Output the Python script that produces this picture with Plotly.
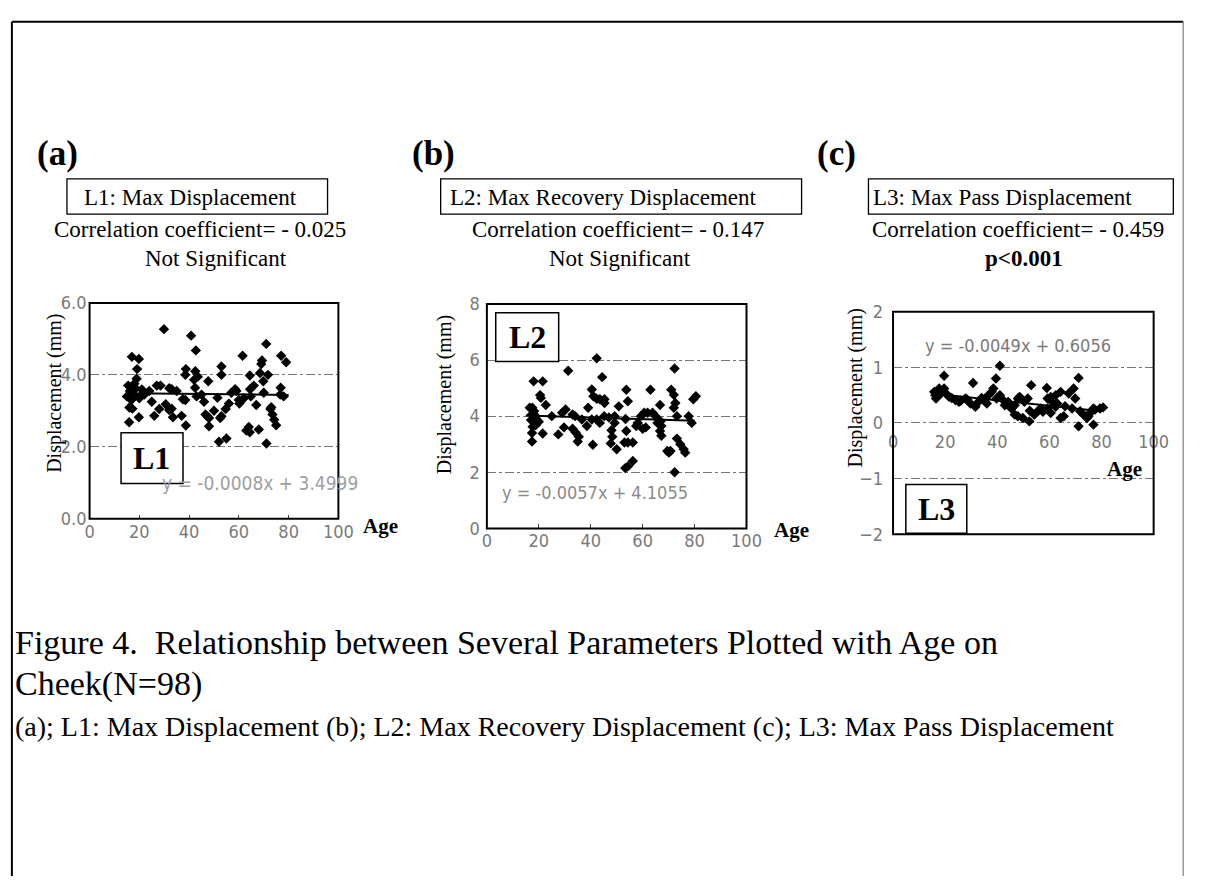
import plotly.graph_objects as go

W, H = 1207, 886

# ---------------- data ----------------
age_a = [29.9, 40.8, 42.7, 17.0, 19.8, 19.1, 18.9, 15.5, 16.2, 15.0, 17.5, 18.5, 20.0, 16.8,
         15.9, 19.8, 16.0, 17.2, 21.0, 24.0, 27.0, 28.5, 32.0, 33.0, 28.0, 26.0, 30.6, 32.0,
         33.0, 33.5, 37.0, 38.7, 38.5, 37.5, 38.5, 38.7, 42.0, 42.5, 43.5, 42.4, 43.0, 47.7,
         46.0, 46.6, 47.3, 48.0, 48.0, 53.0, 53.0, 51.4, 53.0, 52.5, 54.7, 52.0, 55.0, 57.0,
         58.5, 59.0, 60.0, 60.2, 61.5, 64.4, 64.5, 64.8, 63.0, 64.0, 64.4, 67.0, 68.0, 68.5,
         69.0, 69.3, 71.0, 69.8, 71.7, 71.1, 72.7, 73.5, 74.2, 75.0, 76.6, 76.8, 77.0, 79.0,
         16.5, 18.0, 20.5, 22.0, 25.0, 35.0, 45.0, 50.0, 56.0, 62.0, 66.0, 70.0, 73.0, 78.0]
disp_a = [5.27, 5.09, 4.68, 4.50, 4.44, 4.16, 3.89, 3.70, 3.55, 3.40, 3.45, 3.62, 3.35, 3.30,
          2.68, 2.82, 3.09, 3.06, 3.59, 3.55, 3.70, 3.70, 3.63, 3.60, 3.05, 2.86, 3.18, 3.02,
          3.06, 2.82, 2.86, 2.59, 3.30, 3.32, 4.00, 4.16, 3.86, 4.10, 3.95, 3.64, 3.40, 3.82,
          3.25, 2.90, 2.85, 2.80, 2.57, 4.23, 4.00, 3.36, 2.85, 2.80, 3.05, 2.14, 2.23, 3.50,
          3.60, 3.55, 3.30, 3.20, 4.53, 3.98, 3.60, 3.40, 2.45, 2.55, 2.40, 3.16, 2.48, 4.05,
          4.30, 4.40, 4.86, 3.82, 4.00, 2.09, 3.05, 2.90, 2.75, 2.60, 3.45, 3.64, 4.53, 4.35,
          3.50, 3.75, 3.40, 3.45, 3.25, 3.55, 3.45, 3.00, 3.20, 3.35, 3.70, 3.50, 3.10, 3.40]

age_b = [42.3, 31.3, 44.4, 72.3, 18.0, 21.5, 20.5, 20.8, 22.7, 17.5, 18.2, 17.3, 18.8, 17.0,
         20.0, 18.8, 17.6, 17.4, 17.4, 21.5, 25.0, 29.0, 30.3, 33.0, 34.0, 27.5, 29.7, 33.0,
         34.2, 35.4, 35.0, 36.6, 38.5, 40.8, 39.0, 40.4, 41.0, 42.3, 43.5, 45.3, 45.3, 40.4,
         42.3, 43.5, 45.2, 48.0, 48.3, 47.7, 49.2, 49.2, 50.0, 50.8, 53.7, 54.3, 53.4, 53.7,
         53.0, 54.3, 56.2, 53.3, 54.3, 56.2, 57.5, 58.1, 59.3, 60.6, 60.0, 61.2, 63.0, 61.9,
         63.8, 65.0, 65.7, 66.7, 66.9, 67.2, 66.7, 67.2, 69.5, 70.1, 70.7, 71.0, 72.0, 72.6,
         72.0, 73.2, 72.3, 73.2, 74.5, 75.8, 76.4, 77.7, 78.9, 79.5, 80.5, 19.0, 16.5, 47.0]
disp_b = [6.06, 5.62, 5.39, 5.70, 5.24, 5.24, 4.75, 4.65, 4.40, 4.30, 4.18, 4.06, 4.00, 3.86,
          3.80, 3.68, 3.62, 3.40, 3.10, 3.38, 4.00, 4.12, 4.24, 4.06, 4.00, 3.35, 3.60, 3.55,
          3.42, 3.27, 3.10, 3.88, 3.65, 2.98, 4.30, 4.95, 4.71, 4.62, 4.60, 4.60, 4.47, 3.88,
          3.88, 3.76, 4.00, 3.50, 3.27, 3.03, 4.00, 3.76, 2.82, 4.35, 4.94, 4.53, 3.90, 3.47,
          3.06, 3.06, 3.06, 2.15, 2.21, 2.40, 3.65, 3.76, 4.00, 4.12, 3.55, 3.60, 4.94, 4.12,
          4.12, 4.00, 3.76, 4.40, 3.82, 3.65, 3.47, 3.30, 2.76, 2.70, 2.76, 4.94, 4.76, 4.47,
          4.30, 4.00, 2.00, 3.20, 3.00, 2.82, 2.70, 4.00, 3.76, 4.60, 4.71, 3.90, 4.30, 3.95]

age_c = [41.0, 19.6, 71.2, 30.7, 39.5, 53.0, 59.0, 15.8, 17.7, 16.5, 17.1, 19.6, 18.4, 21.5,
         24.0, 25.3, 27.8, 29.7, 31.6, 32.8, 35.4, 36.6, 37.9, 38.5, 39.7, 41.0, 42.3, 42.9,
         44.2, 45.4, 46.7, 47.9, 48.6, 46.7, 47.9, 49.8, 52.3, 54.2, 55.5, 56.7, 50.4, 51.7,
         59.3, 60.5, 62.4, 64.3, 59.3, 60.5, 62.4, 63.0, 65.5, 64.3, 67.4, 69.3, 69.9, 68.7,
         71.2, 71.8, 73.1, 74.4, 75.6, 76.9, 77.5, 79.4, 76.9, 80.6, 16.2, 18.0, 22.5, 26.0,
         34.0, 44.0, 57.5, 66.0, 75.0, 20.5, 28.5, 36.0, 52.5, 61.0]
disp_c = [1.03, 0.85, 0.81, 0.72, 0.80, 0.68, 0.63, 0.56, 0.62, 0.44, 0.50, 0.62, 0.53, 0.47,
          0.41, 0.38, 0.44, 0.35, 0.29, 0.38, 0.44, 0.50, 0.56, 0.62, 0.44, 0.50, 0.41, 0.32,
          0.38, 0.26, 0.32, 0.44, 0.47, 0.15, 0.12, 0.09, 0.03, 0.15, 0.21, 0.26, 0.38, 0.44,
          0.44, 0.47, 0.50, 0.56, 0.26, 0.18, 0.29, 0.35, 0.12, 0.09, 0.53, 0.62, 0.44, 0.26,
          -0.06, 0.21, 0.15, 0.09, 0.18, 0.26, 0.24, 0.26, -0.03, 0.28, 0.50, 0.58, 0.45, 0.40,
          0.45, 0.35, 0.20, 0.30, 0.12, 0.52, 0.42, 0.35, 0.22, 0.38]

fit_x = [15, 80]
fit_a = [3.49, 3.44]
fit_b = [4.02, 3.84]
fit_c = [0.53, 0.21]

x_ticks = [0, 20, 40, 60, 80, 100]
y_ticks_a = [0, 2, 4, 6]
y_labels_a = ["0.0", "2.0", "4.0", "6.0"]
y_ticks_b = [0, 2, 4, 6, 8]
y_ticks_c = [-2, -1, 0, 1, 2]

# ---------------- helpers (pixel -> paper) ----------------
def px(x):
    return x / W

def py(y):
    return 1 - y / H

SERIF = "Liberation Serif, Times New Roman, serif"
NARROW = "Liberation Sans Narrow, DejaVu Sans Condensed, Arial Narrow, sans-serif"
TICKCOL = "#7a7a7a"

fig = go.Figure()

panels = [
    ("x", "y", age_a, disp_a, fit_a),
    ("x2", "y2", age_b, disp_b, fit_b),
    ("x3", "y3", age_c, disp_c, fit_c),
]
for xa, ya, ax_, ay_, fy in panels:
    fig.add_trace(go.Scatter(x=ax_, y=ay_, mode="markers", xaxis=xa, yaxis=ya,
                             marker=dict(symbol="diamond", size=8, color="black"),
                             showlegend=False, hoverinfo="skip"))
    fig.add_trace(go.Scatter(x=fit_x, y=fy, mode="lines", xaxis=xa, yaxis=ya,
                             line=dict(color="black", width=2),
                             showlegend=False, hoverinfo="skip"))

tickfont = dict(family=NARROW, size=18, color=TICKCOL)
xcommon = dict(range=[0, 100], tickvals=x_ticks, showgrid=False, zeroline=False,
               showline=False, tickfont=tickfont)
ycommon = dict(showgrid=True, gridcolor="#777", griddash="dashdot", gridwidth=1,
               zeroline=False, showline=False, ticks="", tickfont=tickfont)

dom_a = (86, 339, 299, 520)
dom_b = (490, 754, 300, 530)
dom_c = (903, 1168, 308, 536)

def xdom(d):
    return [px(d[0]), px(d[1])]

def ydom(d):
    return [py(d[3]), py(d[2])]

fig.update_layout(
    width=W, height=H, margin=dict(l=0, r=0, t=0, b=0),
    paper_bgcolor="white", plot_bgcolor="white", showlegend=False,
    xaxis=dict(domain=xdom(dom_a), anchor="y", ticks="inside", ticklen=4, tickcolor="#444",
               **xcommon),
    yaxis=dict(domain=ydom(dom_a), anchor="x", range=[0, 6], tickvals=y_ticks_a,
               ticktext=y_labels_a, ticklabelstandoff=2, **ycommon),
    xaxis2=dict(domain=xdom(dom_b), anchor="y2", ticks="inside", ticklen=4, tickcolor="#444",
                **xcommon),
    yaxis2=dict(domain=ydom(dom_b), anchor="x2", range=[0, 8], tickvals=y_ticks_b,
                ticklabelstandoff=6, **ycommon),
    xaxis3=dict(domain=xdom(dom_c), anchor="free", position=py(422), ticks="",
                ticklabelstandoff=6, **xcommon),
    yaxis3=dict(domain=ydom(dom_c), anchor="x3", range=[-2, 2], tickvals=y_ticks_c,
                ticklabelstandoff=9, **ycommon),
)

shapes = []
# plot frames
for xr, yr in [("x domain", "y domain"), ("x2 domain", "y2 domain"), ("x3 domain", "y3 domain")]:
    shapes.append(dict(type="rect", xref=xr, yref=yr, x0=0, x1=1, y0=0, y1=1,
                       line=dict(color="black", width=2), fillcolor="rgba(0,0,0,0)", layer="above"))

def rect_px(x0, x1, y0, y1, width=1.3, fill="rgba(0,0,0,0)"):
    return dict(type="rect", xref="paper", yref="paper", x0=px(x0), x1=px(x1),
                y0=py(y1), y1=py(y0), line=dict(color="black", width=width),
                fillcolor=fill, layer="above")

# title boxes
shapes.append(rect_px(63, 328, 172, 208))
shapes.append(rect_px(443, 810, 172, 208))
shapes.append(rect_px(878, 1188, 172, 208))
# L-boxes
shapes.append(rect_px(118, 181, 432, 484, width=1.5, fill="white"))
shapes.append(rect_px(499, 563, 309, 359, width=1.5, fill="white"))
shapes.append(rect_px(916, 978, 485, 535, width=1.5, fill="white"))
# page border
shapes.append(dict(type="line", xref="paper", yref="paper", x0=px(7), x1=px(7), y0=py(11), y1=0,
                   line=dict(color="black", width=2)))
shapes.append(dict(type="line", xref="paper", yref="paper", x0=px(7), x1=px(1198), y0=py(11), y1=py(11),
                   line=dict(color="black", width=2)))
shapes.append(dict(type="line", xref="paper", yref="paper", x0=px(1198), x1=px(1198), y0=py(11), y1=0,
                   line=dict(color="#666", width=1)))
fig.update_layout(shapes=shapes)

ann = []

def text(x, y, s, size, bold=False, color="black", xanchor="center", family=SERIF, angle=0):
    if bold:
        s = "<b>" + s + "</b>"
    ann.append(dict(x=px(x), y=py(y), xref="paper", yref="paper", text=s, showarrow=False,
                    xanchor=xanchor, yanchor="middle", textangle=angle,
                    font=dict(family=family, size=size, color=color)))

# panel letters
text(31, 146, "(a)", 35, bold=True, xanchor="left")
text(412, 146, "(b)", 35, bold=True, xanchor="left")
text(824, 146, "(c)", 35, bold=True, xanchor="left")
# title box texts
text(78, 191, "L1: Max Displacement", 23, xanchor="left")
text(450, 191, "L2: Max Recovery Displacement", 23, xanchor="left")
text(881, 191, "L3: Max Pass Displacement", 23, xanchor="left")
# correlation texts
text(198, 224, "Correlation coefficient= - 0.025", 23)
text(215, 253, "Not Significant", 23)
text(623, 224, "Correlation coefficient= - 0.147", 23)
text(625, 253, "Not Significant", 23)
text(1030, 224, "Correlation coefficient= - 0.459", 23)
text(1036, 253, "p<0.001", 23, bold=True)
# y-axis titles
text(51, 392, "Displacement (mm)", 20, angle=-90)
text(447, 393, "Displacement (mm)", 20, angle=-90)
text(865, 386, "Displacement (mm)", 20, angle=-90)
# Age labels
text(382, 527, "Age", 21, bold=True)
text(800, 532, "Age", 21, bold=True)
text(1138, 469, "Age", 21, bold=True)
# L labels
text(149, 458, "L1", 32, bold=True)
text(531, 334, "L2", 32, bold=True)
text(947, 510, "L3", 32, bold=True)
# regression equations
text(259, 483, "y = -0.0008x + 3.4999", 19, color="#a0a0a0", family=NARROW)
text(600, 493, "y = -0.0057x + 4.1055", 18, color="#8a8a8a", family=NARROW)
text(1030, 343, "y = -0.0049x + 0.6056", 18, color="#7a7a7a", family=NARROW)
# caption
text(8, 647, "Figure 4.  Relationship between Several Parameters Plotted with Age on", 34, xanchor="left")
text(8, 689, "Cheek(N=98)", 34, xanchor="left")
text(8, 733, "(a); L1: Max Displacement (b); L2: Max Recovery Displacement (c); L3: Max Pass Displacement",
     28, xanchor="left")

fig.update_layout(annotations=ann)
fig.write_html("out.html", config={"displayModeBar": False},
               post_script="document.body.style.margin='0';document.body.style.overflow='hidden';")
